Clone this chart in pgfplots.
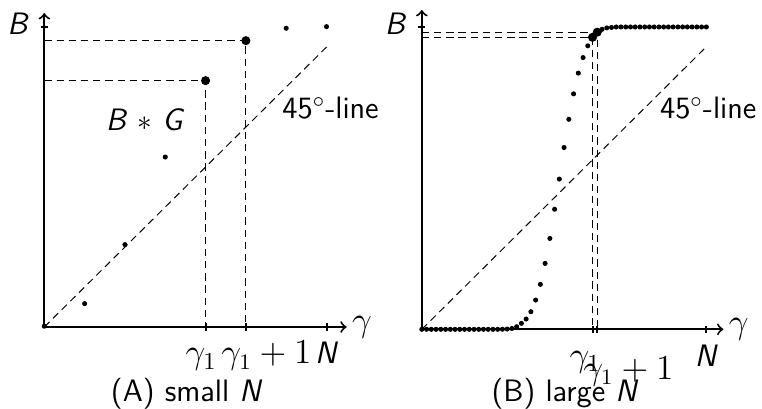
\documentclass[border=0pt]{standalone}
\usepackage{pgfplots}
\pgfplotsset{compat=1.18}
\newcommand{\sv}[1]{\textsf{\textit{#1}}}
\newcommand{\lgm}[1]{{\fontsize{14.2}{17}\selectfont$#1$}}
\newcommand{\mdm}[1]{{\fontsize{13.4}{16}\selectfont$#1$}}

\begin{document}
\fontsize{12.7}{15.2}\selectfont
\begin{tikzpicture}
\pgfplotsset{
  panel/.style={
    axis lines=left,
    axis line style={thick,-to},
    tick align=center, major tick length=3pt, tick style={thick,black},
    typeset ticklabels with strut,
    xticklabel style={yshift=1.5pt},
    yticklabel style={xshift=-0.4pt},
    clip=false, anchor=origin,
    xlabel={\lgm{\gamma}},
    x label style={at={(axis description cs:1,0)}, anchor=west, inner sep=2pt},
  },
  guide/.style={no marks, thin, black, dash pattern=on 3pt off 2pt},
  dots/.style={only marks, mark=*, mark size=0.82pt, black},
  bigdots/.style={only marks, mark=*, mark size=1.64pt, black},
}
\useasboundingbox (-18.16pt,-33.2pt) rectangle (294.1pt,134.0pt);

% (A) small N
\begin{axis}[panel, at={(0pt,0pt)},
  x=16.52pt, y=16.39pt,
  xmin=0, xmax=7.5, ymin=0, ymax=7.85,
  xtick={4,5,7},
  xticklabels={{\makebox[0pt][l]{\hspace{-8.2pt}\lgm{\gamma_1}}},
               {\makebox[0pt][l]{\hspace{-10.0pt}\mdm{\gamma_1+1}}},
               {\sv{N}}},
  ytick={7.5}, yticklabels={{\sv{B}}},
]
\addplot[guide] coordinates {(0,0) (7,7)};
\addplot[guide] coordinates {(0,6.16) (4,6.16) (4,0)};
\addplot[guide] coordinates {(0,7.16) (5,7.16) (5,0)};
\addplot[dots] coordinates {
  (0,0.02) (1,0.585) (2,2.06) (3,4.25) (4,6.16) (5,7.16) (6,7.47) (7,7.51)};
\addplot[bigdots] coordinates {(4,6.16) (5,7.16)};
\node at (axis cs:2.5,5.18) {\sffamily\sv{B} $*$ \sv{G}};
\node at (axis cs:7.1,5.48) {\sffamily 45$^\circ$-line};
\node[anchor=base] at (axis cs:3.53,-1.87) {\sffamily (A) small \sv{N}};
\end{axis}

% (B) large N
\begin{axis}[panel, at={(154.7pt,-0.95pt)},
  x=1.943pt, y=1.930pt,
  xmin=0, xmax=63.6, ymin=0, ymax=67.8,
  xtick={36,60},
  xticklabels={{\makebox[0pt][l]{\hspace{-9.4pt}\lgm{\gamma_1}}},
               {\sv{N}}},
  extra x ticks={37},
  extra x tick labels={{\makebox[0pt][l]{\hspace{-5.7pt}\mdm{\gamma_1+1}}}},
  extra x tick style={xticklabel style={yshift=-5.3pt}},
  ytick={64.2}, yticklabels={{\sv{B}}},
]
\addplot[guide] coordinates {(0,0) (60,60)};
\addplot[guide] coordinates {(0,62.0) (36,62.0) (36,0)};
\addplot[guide] coordinates {(0,63.1) (37,63.1) (37,0)};
\addplot[dots] coordinates {
  (0,0) (1,0) (2,0) (3,0) (4,0) (5,0) (6,0) (7,0) (8,0) (9,0)
  (10,0) (11,0) (12,0) (13,0) (14,0) (15,0) (16,0) (17,0.02) (18,0.06) (19,0.18)
  (20,0.55) (21,1.27) (22,2.19) (23,3.74) (24,6.22) (25,9.55) (26,14.0) (27,19.3) (28,25.5) (29,31.9)
  (30,38.6) (31,44.6) (32,50.0) (33,54.4) (34,57.7) (35,60.2) (36,62.0) (37,63.1) (38,63.7) (39,64.0)
  (40,64.1) (41,64.2) (42,64.2) (43,64.2) (44,64.2) (45,64.2) (46,64.2) (47,64.2) (48,64.2) (49,64.2)
  (50,64.2) (51,64.2) (52,64.2) (53,64.2) (54,64.2) (55,64.2) (56,64.2) (57,64.2) (58,64.2) (59,64.2)
  (60,64.2)};
\addplot[bigdots] coordinates {(36,62.0) (37,63.1)};
\node at (axis cs:60.4,47) {\sffamily 45$^\circ$-line};
\node[anchor=base] at (axis cs:30.2,-15.4) {\sffamily (B) large \sv{N}};
\end{axis}
\end{tikzpicture}
\end{document}
